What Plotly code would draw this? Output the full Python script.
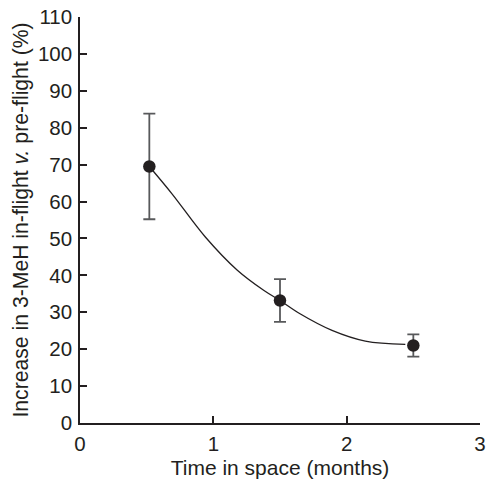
import plotly.graph_objects as go

# Measured means with standard-error bars
months = [0.52, 1.5, 2.5]
increase_pct = [69.5, 33.2, 21.0]
error_pct = [14.3, 5.8, 3.0]

# Fitted trend line, sampled along the drawn curve
fit_months = [0.52, 0.69, 0.94, 1.18, 1.38, 1.50, 1.65, 1.89, 2.14, 2.44]
fit_pct = [69.5, 62.1, 50.4, 41.4, 35.9, 33.2, 29.6, 25.1, 22.2, 21.3]

x_ticks = [0, 1, 2, 3]
y_ticks = list(range(0, 111, 10))

FONT = "Liberation Sans, Arial, sans-serif"
INK = "#231f20"

fig = go.Figure()

fig.add_trace(go.Scatter(
    x=fit_months, y=fit_pct, mode="lines",
    line=dict(color=INK, width=1.3, shape="spline", smoothing=1.0),
    hoverinfo="skip", showlegend=False,
))

fig.add_trace(go.Scatter(
    x=months, y=increase_pct, mode="markers",
    marker=dict(size=12.5, color=INK),
    error_y=dict(type="data", array=error_pct, visible=True,
                 color="#58595b", thickness=1.8, width=6),
    showlegend=False,
))

axis_common = dict(
    showline=True, linecolor=INK, linewidth=1.5,
    ticks="inside", ticklen=7, tickwidth=1.5, tickcolor=INK,
    showgrid=False, zeroline=False, mirror=False,
    ticklabeloverflow="allow",
    tickfont=dict(family=FONT, size=20.5, color=INK),
)

fig.update_layout(
    width=490, height=480,
    margin=dict(l=80, r=4, t=17, b=57),
    paper_bgcolor="white", plot_bgcolor="white",
    font=dict(family=FONT, color=INK),
    xaxis=dict(
        range=[0, 3], tickvals=x_ticks, ticktext=[str(v) for v in x_ticks],
        ticklabelstandoff=2,
        title=dict(text="Time in space (months)", font=dict(size=21, family=FONT, color=INK), standoff=6),
        **axis_common,
    ),
    yaxis=dict(
        range=[0, 110], tickvals=y_ticks, ticktext=[str(v) for v in y_ticks],
        ticklabelstandoff=2,
        title=dict(text="Increase in 3-MeH in-flight <i>v.</i> pre-flight (%)",
                   font=dict(size=21.2, family=FONT, color=INK), standoff=4),
        **axis_common,
    ),
)

fig.write_html("out.html")
